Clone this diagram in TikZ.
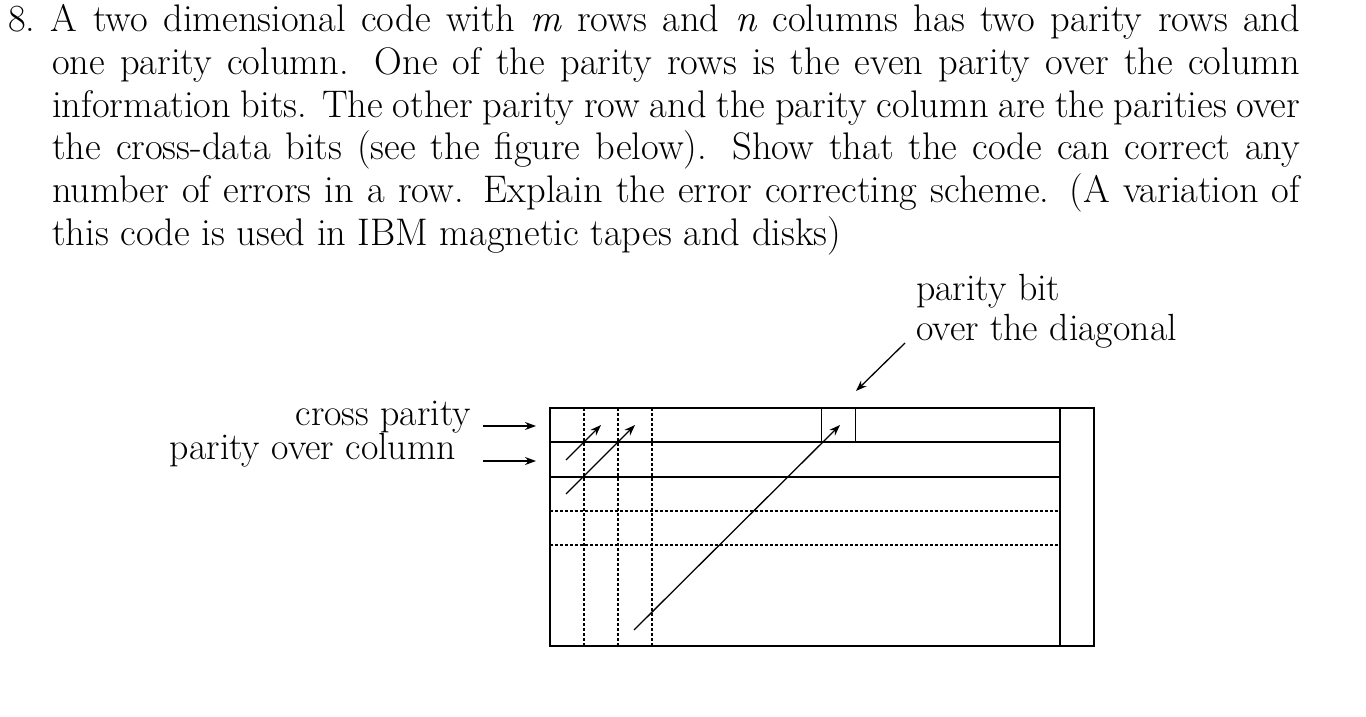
\documentclass[tikz,border=0pt]{standalone}
\usetikzlibrary{arrows.meta}
\begin{document}
\begin{tikzpicture}[x=1bp,y=-1bp,
  grid/.style={line width=1.3bp},
  dgrid/.style={line width=1.3bp,dash pattern=on 3bp off 2bp},
  arr/.style={line width=1.3bp,-{Stealth[length=11bp,width=8bp]}},
  lbl/.style={font=\fontsize{38}{43}\selectfont,inner sep=0pt}]
\useasboundingbox (0,0) rectangle (1366,716);
\node[lbl,anchor=north west] (txt) at (8,4)
 {\begin{minipage}{1292bp}\fontsize{38.6}{43}\selectfont\noindent\hangindent=44bp\hangafter=1 8.\ A two dimensional code with \textit{m} rows and \textit{n} columns has two parity rows and one parity column. One of the parity rows is the even parity over the column information bits. The other parity row and the parity column are the parities over the cross-data bits (see the figure below). Show that the code can correct any number of errors in a row. Explain the error correcting scheme. (A variation of this code is used in IBM magnetic tapes and disks)\end{minipage}};
% grid
\draw[grid] (550,408) rectangle (1094,646);
\draw[grid] (1060,408) -- (1060,646);
\draw[grid] (550,442) -- (1060,442);
\draw[grid] (550,477) -- (1060,477);
\draw[dgrid] (550,511) -- (1060,511);
\draw[dgrid] (550,545) -- (1060,545);
\foreach \x in {584,618,652} \draw[dgrid] (\x,408) -- (\x,646);
\node[draw,line width=1.5bp,minimum size=34bp,inner sep=0pt] (pb) at (838.5,425) {};
\coordinate (a1s) at (566,460); \coordinate (a1e) at (601,425);
\coordinate (a2s) at (566,494); \coordinate (a2e) at (635,425);
\coordinate (a3s) at (634,630); \coordinate (a3e) at (840,425);
\draw[arr] (a1s) -- (a1e);
\draw[arr] (a2s) -- (a2e);
\draw[arr] (a3s) -- (a3e);
% labels
\node[lbl,anchor=base east] (cp) at (471,425) {cross parity};
\node[lbl,anchor=base east] (pc) at (456,459) {parity over column};
\coordinate (cpe) at (536,426); \coordinate (pce) at (536,461);
\draw[arr] (483,426) -- (cpe);
\draw[arr] (483,461) -- (pce);
\node[lbl,anchor=base west,align=left] (pt) at (916,300) {parity bit};
\node[lbl,anchor=base west,align=left] (pd) at (916,340) {over the diagonal};
\coordinate (dgs) at (905,343); \coordinate (dge) at (856,391);
\draw[arr] (dgs) -- (dge);
\end{tikzpicture}
\end{document}
